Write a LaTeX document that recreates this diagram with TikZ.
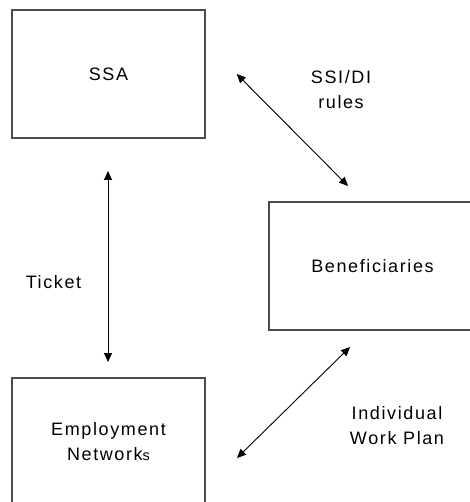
\documentclass[tikz,border=0pt]{standalone}
\usepackage{fontspec}
\setmainfont{Liberation Sans}[LetterSpace=9]
\usetikzlibrary{arrows.meta}
\begin{document}
\begin{tikzpicture}[x=1pt,y=-1pt,
  box/.style={draw=black!70,line width=1.2pt,minimum width=#1,minimum height=128pt,inner sep=0pt,align=center,
    font=\fontsize{18}{25}\selectfont},
  box/.default=193pt,
  lbl/.style={inner sep=0pt,align=center,font=\fontsize{18}{25}\selectfont},
  link/.style={line width=0.9pt,{Triangle[length=9pt,width=8pt]}-{Triangle[length=9pt,width=8pt]}}]
\useasboundingbox[fill=white] (0,0) rectangle (469,502);
\node[box] (ssa) at (108.5,74) {SSA};
\node[box=207pt] (ben) at (372.5,266) {Beneficiaries};
\node[box] (en) at (108.5,442) {Employment\\Network{\fontsize{14.5}{25}\selectfont s}};
\coordinate (v1) at (108,171);
\coordinate (v2) at (108,362);
\coordinate (d1) at (236.7,74);
\coordinate (d2) at (348,186);
\coordinate (e1) at (237,458);
\coordinate (e2) at (350,347);
\draw[link] (v1) -- (v2);
\draw[link] (d1) -- (d2);
\draw[link] (e1) -- (e2);
\node[lbl] (ticket) at (53.5,282) {Ticket};
\node[lbl] (ssi) at (341,90) {SSI/DI\\rules};
\node[lbl] (iwp) at (397,426) {Individual\\Work Plan};
\end{tikzpicture}
\end{document}
